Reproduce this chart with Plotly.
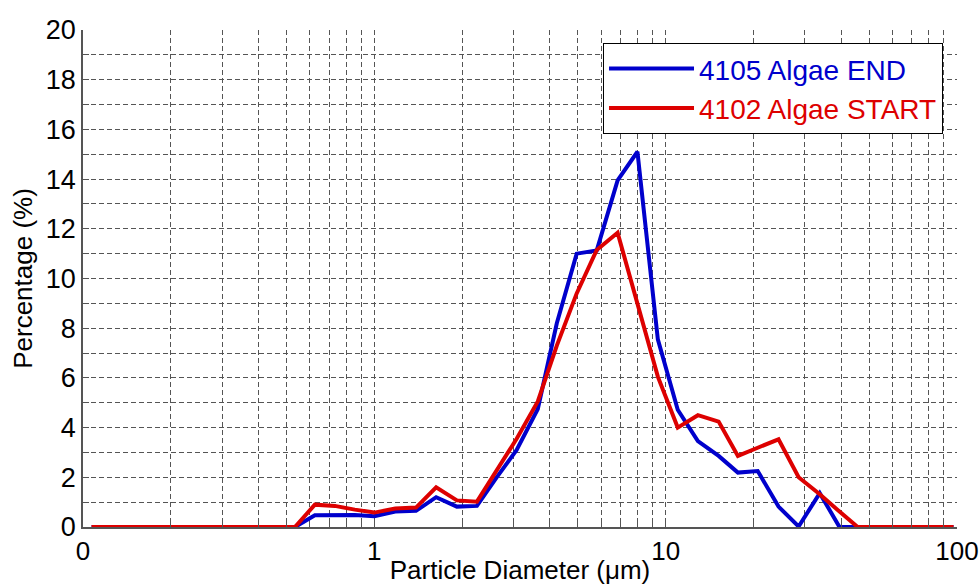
import plotly.graph_objects as go

# Particle size bins (um)
diameter = [0.107, 0.534, 0.625, 0.732, 0.857, 1.0, 1.18, 1.39, 1.63, 1.92, 2.25,
            2.63, 3.08, 3.64, 4.23, 4.95, 5.8, 6.84, 8.0, 9.4, 11.0, 12.9, 15.2,
            17.7, 20.7, 24.4, 28.6, 33.8, 39.5, 45.6, 97.3]

end_4105 = [0, 0, 0.47, 0.48, 0.48, 0.43, 0.62, 0.65, 1.2, 0.82, 0.85,
            2.0, 3.1, 4.75, 8.2, 11.0, 11.13, 13.95, 15.1, 7.55, 4.72, 3.46, 2.86,
            2.19, 2.25, 0.82, 0.02, 1.36, 0, 0, 0]

start_4102 = [0, 0, 0.9, 0.85, 0.7, 0.58, 0.74, 0.78, 1.6, 1.07, 1.02,
              2.3, 3.55, 5.05, 7.3, 9.4, 11.15, 11.84, 8.95, 6.05, 4.0, 4.5, 4.24,
              2.86, 3.19, 3.53, 2.0, 1.32, 0.62, 0, 0]

series_names = ["4105 Algae END", "4102 Algae START"]
series_colors = ["#0000CC", "#DD0000"]

x_tickvals = [m * 10 ** e for e in (-1, 0, 1) for m in range(1, 10)] + [100]
x_ticktext = ["0" if v == 0.1 else (str(int(v)) if v in (1, 10, 100) else "") for v in x_tickvals]
y_tickvals = list(range(0, 21))
y_ticktext = [str(v) if v % 2 == 0 else "" for v in y_tickvals]

FONT = "Liberation Sans, Arial, sans-serif"

fig = go.Figure()
for name, ys, col in zip(series_names, [end_4105, start_4102], series_colors):
    fig.add_trace(go.Scatter(
        x=diameter, y=ys, mode="lines",
        name=f"<span style='color:{col}'>{name}</span>",
        line=dict(color=col, width=4),
        cliponaxis=False,
    ))

fig.update_layout(
    width=979, height=585,
    margin=dict(l=83, r=22, t=30, b=58),
    paper_bgcolor="white", plot_bgcolor="white",
    font=dict(family=FONT, size=26, color="black"),
    showlegend=True,
    legend=dict(
        x=0.984, y=0.974, xanchor="right", yanchor="top",
        bordercolor="black", borderwidth=1, bgcolor="white",
        font=dict(family=FONT, size=28),
        itemwidth=85, tracegroupgap=0,
    ),
)

fig.update_xaxes(
    type="log", range=[-1, 2],
    tickmode="array", tickvals=x_tickvals, ticktext=x_ticktext,
    ticks="inside", ticklen=6, tickcolor="#555", tickwidth=1,
    showline=True, linecolor="#555", linewidth=1.5,
    showgrid=True, gridcolor="#555", gridwidth=1, griddash="5px,3px",
    zeroline=False, automargin=False,
    tickfont=dict(size=26),
    title=dict(text="Particle Diameter (\u03bcm)", font=dict(size=26), standoff=4),
)
fig.update_yaxes(
    range=[0, 20],
    tickmode="array", tickvals=y_tickvals, ticktext=y_ticktext,
    ticks="inside", ticklen=6, tickcolor="#555", tickwidth=1,
    showline=True, linecolor="#555", linewidth=1.5,
    showgrid=True, gridcolor="#555", gridwidth=1, griddash="5px,3px",
    zeroline=False, automargin=False,
    tickfont=dict(size=27),
    title=dict(text="Percentage (%)", font=dict(size=26), standoff=6),
)

fig.write_html("out.html")
